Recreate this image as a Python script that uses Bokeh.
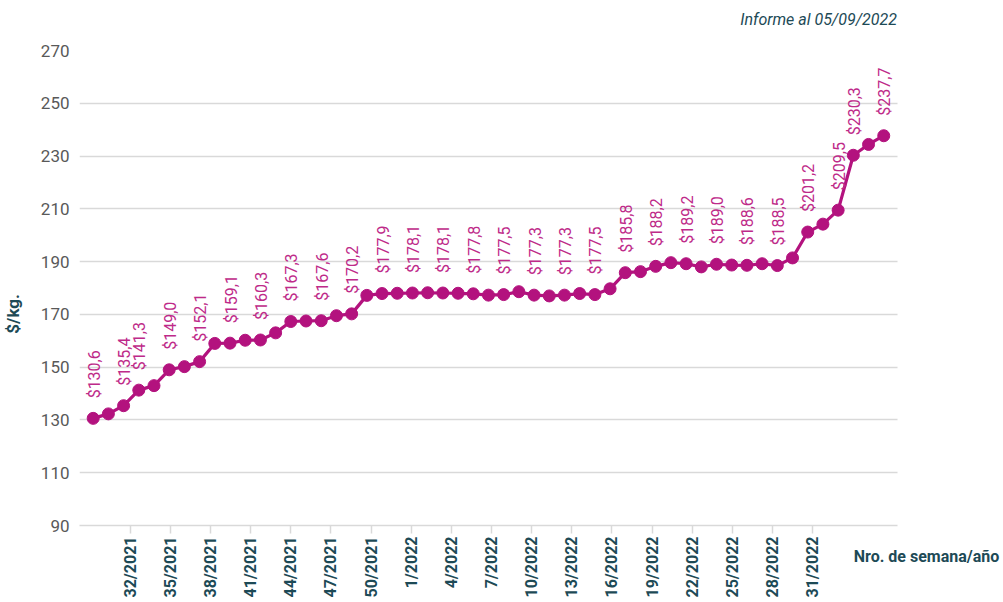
import math
from bokeh.plotting import figure
from bokeh.models import Range1d, FixedTicker, LinearAxis, ColumnDataSource
from bokeh.core.properties import value
from bokeh.embed import file_html
from bokeh.resources import INLINE

# ---- data ----
week_tick_labels = ["32/2021", "35/2021", "38/2021", "41/2021", "44/2021", "47/2021",
                    "50/2021", "1/2022", "4/2022", "7/2022", "10/2022", "13/2022",
                    "16/2022", "19/2022", "22/2022", "25/2022", "28/2022", "31/2022"]
week_tick_offsets = [0, 3, 6, 9, 12, 15, 18, 21, 24, 27, 30, 33, 36, 39, 42, 45, 48, 51]

prices = [130.6, 132.3, 135.4, 141.3, 143.0, 149.0, 150.2, 152.1, 159.0, 159.1,
          160.2, 160.3, 163.0, 167.3, 167.5, 167.6, 169.5, 170.2, 177.2, 177.9,
          178.0, 178.1, 178.2, 178.1, 178.0, 177.8, 177.3, 177.5, 178.6, 177.3,
          177.0, 177.3, 177.9, 177.5, 179.7, 185.8, 186.2, 188.2, 189.6, 189.2,
          188.0, 189.0, 188.7, 188.6, 189.2, 188.5, 191.4, 201.2, 204.2, 209.5,
          230.3, 234.4, 237.7]
labeled_points = [0, 2, 3, 5, 7, 9, 11, 13, 15, 17, 19, 21, 23, 25, 27, 29, 31, 33,
                  35, 37, 39, 41, 43, 45, 47, 49, 50, 52]
y_ticks = [90, 110, 130, 150, 170, 190, 210, 230, 250, 270]

report_note = "Informe al 05/09/2022"
x_title = "Nro. de semana/año"
y_title = "$/kg."

# ---- styles ----
MAGENTA = "#B3127E"
LABEL_COL = "#BE2A89"
TEAL = "#1D4A56"
GREY = "#595959"
GRID = "#D9D9D9"
FONT = "Roboto"

# plotted area (week units); the frame continues to the right to host the x title
WEEK_START, WEEK_END, FRAME_END = -3.78, 57.34, 65.03
PTS_START, PTS_END = -0.90, 59.68

idx = list(range(len(prices)))
src = ColumnDataSource(dict(x=idx, y=prices))
lab_src = ColumnDataSource(dict(
    x=labeled_points,
    y=[prices[i] for i in labeled_points],
    t=["$" + f"{prices[i]:.1f}".replace(".", ",") for i in labeled_points],
))

p = figure(width=1000, height=600, output_backend="svg", toolbar_location=None,
           x_range=Range1d(WEEK_START, FRAME_END), y_range=Range1d(90, 270),
           min_border_left=78, min_border_right=0, min_border_top=50,
           min_border_bottom=75)
p.extra_x_ranges = {"pts": Range1d(PTS_START, PTS_END)}
p.outline_line_color = None
p.background_fill_color = "white"
p.border_fill_color = "white"

# grid
p.xgrid.grid_line_color = None
p.ygrid.ticker = FixedTicker(ticks=y_ticks)
p.ygrid.cross_bounds = (WEEK_START, WEEK_END)
p.ygrid.grid_line_color = GRID
p.ygrid.grid_line_width = 1.3

# y axis
p.yaxis.ticker = FixedTicker(ticks=y_ticks)
p.yaxis.axis_line_color = None
p.yaxis.major_tick_line_color = None
p.yaxis.major_tick_out = 0
p.yaxis.minor_tick_line_color = None
p.yaxis.major_label_standoff = 10
p.yaxis.major_label_text_font = FONT
p.yaxis.major_label_text_font_size = "17px"
p.yaxis.major_label_text_color = GREY

# x axis
p.xaxis.bounds = (WEEK_START, WEEK_END)
p.xaxis.ticker = FixedTicker(ticks=week_tick_offsets)
p.xaxis.major_label_overrides = {t: l for t, l in zip(week_tick_offsets, week_tick_labels)}
p.xaxis.major_label_orientation = math.pi / 2
p.xaxis.axis_line_color = GRID
p.xaxis.axis_line_width = 1.5
p.xaxis.major_tick_line_color = GRID
p.xaxis.major_tick_line_width = 1.5
p.xaxis.major_tick_out = 8
p.xaxis.major_tick_in = 0
p.xaxis.minor_tick_line_color = None
p.xaxis.major_label_standoff = 3
p.xaxis.major_label_text_font = FONT
p.xaxis.major_label_text_font_style = "bold"
p.xaxis.major_label_text_font_size = "16px"
p.xaxis.major_label_text_color = TEAL


def text_axis(text, pos, half, standoff, style, size, orientation):
    """An axis with no line and one tick label, used to place a free text outside the frame."""
    return LinearAxis(bounds=(pos - half, pos + half), ticker=FixedTicker(ticks=[pos]),
                      major_label_overrides={pos: text}, axis_line_color=None,
                      major_tick_out=0, major_tick_in=0, minor_tick_out=0, minor_tick_in=0,
                      major_tick_line_color=None, minor_tick_line_color=None,
                      major_label_standoff=standoff, major_label_orientation=orientation,
                      major_label_text_font=FONT, major_label_text_font_style=style,
                      major_label_text_font_size=size, major_label_text_color=TEAL)


p.add_layout(text_axis(report_note, 51.44, 0.2, 22, "italic", "16px", "horizontal"), "above")
p.add_layout(text_axis(x_title, 59.5, 0.2, -54, "bold", "16px", "horizontal"), "below")
p.add_layout(text_axis(y_title, 170.2, 0.5, 14, "bold", "17px", "vertical"), "left")

# series
p.line("x", "y", source=src, x_range_name="pts", line_color=MAGENTA, line_width=3.2)
p.scatter("x", "y", source=src, x_range_name="pts", size=12, fill_color=MAGENTA,
          line_color=MAGENTA)
p.text("x", "y", text="t", source=lab_src, x_range_name="pts", angle=math.pi / 2,
       text_align="left", text_baseline="middle", y_offset=-20, x_offset=1,
       text_font=value(FONT), text_font_size="16px", text_color=LABEL_COL)

open("out.html", "w").write(file_html(p, INLINE))
